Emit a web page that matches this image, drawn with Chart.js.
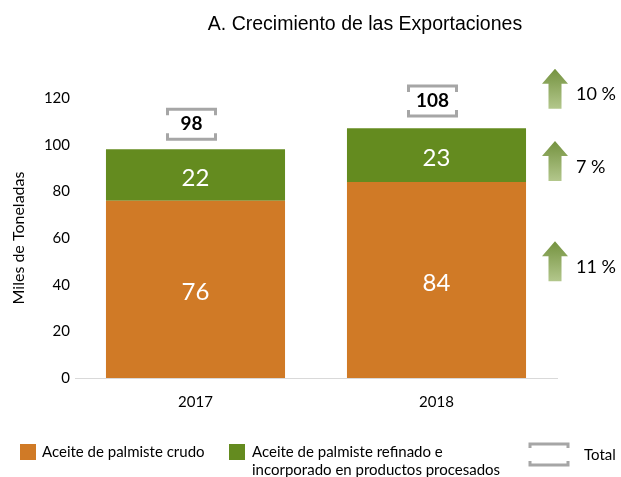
<!DOCTYPE html>
<html>
<head>
<meta charset="utf-8">
<script src="https://cdn.jsdelivr.net/npm/chart.js@4"></script>
<style>
  html, body { margin: 0; padding: 0; background: #fff; }
  #wrap { width: 621px; height: 477px; }
</style>
</head>
<body>
<div id="wrap"><canvas id="chartjs" width="621" height="477"></canvas></div>
<script>
const categories = ['2017', '2018'];
const crudo = [76, 84];
const refinado = [22, 23];
const totals = [98, 108];
// growth arrows on the right, with the y value where each one sits
const growthLabels = ['11 %', '7 %', '10 %'];
const growthAt = [50, 93, 124];
const yMax = 120;
const yStep = 20;

const ORANGE = '#D07A26';
const GREEN = '#648B1F';
const GREY = '#A6A6A6';
const FONT = 'Lato, "Open Sans", sans-serif';

function bracket(ctx, x, y, w, h, t) {
  ctx.beginPath();
  ctx.moveTo(x, y + t); ctx.lineTo(x, y); ctx.lineTo(x + w, y); ctx.lineTo(x + w, y + t);
  ctx.moveTo(x, y + h - t); ctx.lineTo(x, y + h); ctx.lineTo(x + w, y + h); ctx.lineTo(x + w, y + h - t);
  ctx.stroke();
}

function arrowUp(ctx, cx, cy) {
  const top = cy - 20, bot = cy + 20, headH = 15;
  const g = ctx.createLinearGradient(0, top, 0, bot);
  g.addColorStop(0, '#74923F');
  g.addColorStop(1, '#B3C78C');
  ctx.fillStyle = g;
  ctx.beginPath();
  ctx.moveTo(cx, top);
  ctx.lineTo(cx + 13, top + headH);
  ctx.lineTo(cx + 6.5, top + headH);
  ctx.lineTo(cx + 6.5, bot);
  ctx.lineTo(cx - 6.5, bot);
  ctx.lineTo(cx - 6.5, top + headH);
  ctx.lineTo(cx - 13, top + headH);
  ctx.closePath();
  ctx.fill();
}

const extras = {
  id: 'extras',
  afterDatasetsDraw(chart) {
    const ctx = chart.ctx;
    const y = chart.scales.y;
    ctx.save();

    // values inside the segments
    ctx.fillStyle = '#fff';
    ctx.font = '24px ' + FONT;
    ctx.textAlign = 'center';
    ctx.textBaseline = 'middle';
    chart.data.datasets.forEach((ds, i) => {
      chart.getDatasetMeta(i).data.forEach((bar, j) => {
        ctx.fillText(String(ds.data[j]), bar.x, (bar.y + bar.base) / 2 + 3);
      });
    });

    // totals in brackets
    const top = chart.getDatasetMeta(1).data;
    top.forEach((bar, j) => {
      const bx = bar.x - 28, by = y.getPixelForValue(totals[j]) - 40;
      ctx.strokeStyle = GREY;
      ctx.lineWidth = 3;
      bracket(ctx, bx, by, 48, 30, 6);
      ctx.fillStyle = '#000';
      ctx.font = 'bold 19px ' + FONT;
      ctx.fillText(String(totals[j]), bx + 24, by + 15);
    });

    // growth arrows
    growthLabels.forEach((lab, k) => {
      const cy = y.getPixelForValue(growthAt[k]);
      arrowUp(ctx, 555, cy);
      ctx.fillStyle = '#000';
      ctx.font = '18px ' + FONT;
      ctx.textAlign = 'left';
      ctx.fillText(lab, 576, cy + 6);
    });

    // title
    ctx.textAlign = 'center';
    ctx.textBaseline = 'alphabetic';
    ctx.fillStyle = '#000';
    ctx.font = '19.5px "Liberation Sans", Arial, sans-serif';
    ctx.fillText('A. Crecimiento de las Exportaciones', 365, 30);
    ctx.textBaseline = 'middle';

    // legend
    ctx.textAlign = 'left';
    ctx.font = '15px ' + FONT;
    ctx.fillStyle = ORANGE;
    ctx.fillRect(20, 444, 16, 16);
    ctx.fillStyle = '#000';
    ctx.fillText(chart.data.datasets[0].label, 42, 452);
    ctx.fillStyle = GREEN;
    ctx.fillRect(229, 444, 16, 16);
    ctx.fillStyle = '#000';
    ctx.fillText('Aceite de palmiste refinado e', 252, 452);
    ctx.fillText('incorporado en productos procesados', 252, 470);
    ctx.strokeStyle = GREY;
    ctx.lineWidth = 3;
    bracket(ctx, 530, 444, 38, 21, 4);
    ctx.fillStyle = '#000';
    ctx.fillText('Total', 584, 455);

    ctx.restore();
  }
};

new Chart(document.getElementById('chartjs').getContext('2d'), {
  type: 'bar',
  data: {
    labels: categories,
    datasets: [
      { label: 'Aceite de palmiste crudo', data: crudo, backgroundColor: ORANGE },
      { label: 'Aceite de palmiste refinado e incorporado en productos procesados', data: refinado, backgroundColor: GREEN }
    ]
  },
  options: {
    responsive: false,
    animation: false,
    categoryPercentage: 0.743,
    barPercentage: 1,
    layout: { padding: { left: 0, right: 64, top: 98, bottom: 59 } },
    plugins: {
      legend: { display: false },
      title: { display: false },
      tooltip: { enabled: false }
    },
    scales: {
      x: {
        stacked: true,
        grid: { display: false, drawTicks: false },
        border: { display: true, color: '#D9D9D9', width: 1 },
        ticks: { color: '#000', font: { family: FONT, size: 15 }, padding: 15 },
        afterFit(scale) { scale.height = 40; }
      },
      y: {
        stacked: true,
        min: 0,
        max: yMax,
        grid: { display: false, drawTicks: false },
        border: { display: false },
        ticks: { stepSize: yStep, color: '#000', font: { family: FONT, size: 15 }, padding: 5 },
        title: {
          display: true,
          text: 'Miles de Toneladas',
          color: '#000',
          font: { family: FONT, size: 16 },
          padding: { top: 9, bottom: 0 }
        },
        afterFit(scale) { scale.width = 75; }
      }
    }
  },
  plugins: [extras]
});
</script>
</body>
</html>
